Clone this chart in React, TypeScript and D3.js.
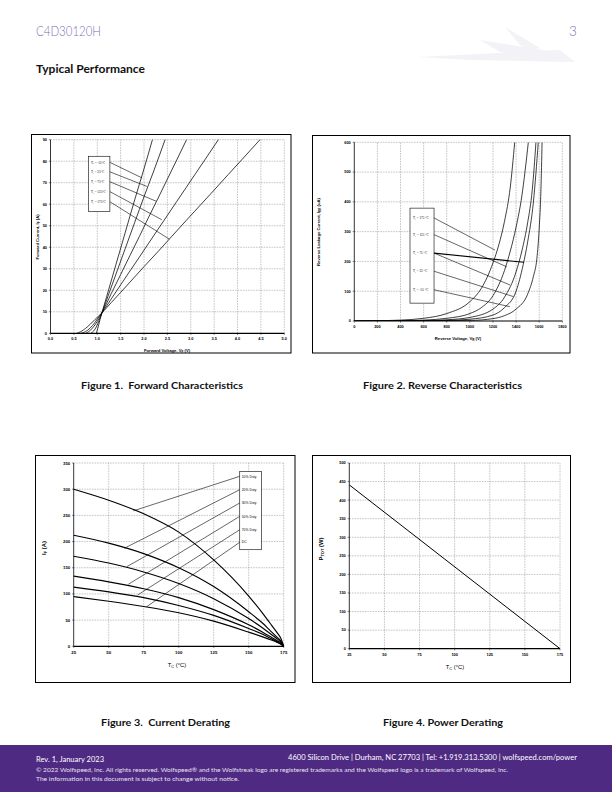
import React from "react";
import * as d3 from "d3";

type Pt = [number, number];

// ---------- Figure 1: Forward characteristics ----------
const FWD_X_TICKS = [0, 0.5, 1, 1.5, 2, 2.5, 3, 3.5, 4, 4.5, 5];
const FWD_Y_TICKS = [0, 10, 20, 30, 40, 50, 60, 70, 80, 90];
const FWD_TEMPS = ["-55", "25", "75", "125", "175"];
const FWD_N55: Pt[] = [[0.98, 0], [1.02, 3], [1.06, 6.5], [1.1, 9.5], [1.2, 17], [1.4, 32], [1.6, 47], [1.8, 62], [2.0, 76.5], [2.18, 90]];
const FWD_25: Pt[] = [[0.86, 0], [0.92, 1], [0.98, 3], [1.04, 6], [1.1, 9.5], [1.2, 15.5], [1.4, 27.5], [1.6, 39.5], [1.8, 51.5], [2.0, 63.5], [2.2, 75], [2.45, 90]];
const FWD_75: Pt[] = [[0.75, 0], [0.82, 0.8], [0.9, 2.5], [1.0, 5.5], [1.1, 9.5], [1.3, 18.5], [1.5, 27.3], [1.7, 36.2], [1.9, 45], [2.1, 54], [2.3, 62.8], [2.5, 71.7], [2.7, 80.6], [2.91, 90]];
const FWD_125: Pt[] = [[0.65, 0], [0.75, 0.8], [0.85, 2.5], [0.95, 5], [1.0, 6.6], [1.1, 9.5], [1.3, 16], [1.5, 22.5], [1.7, 29], [1.9, 35.4], [2.1, 41.9], [2.3, 48.4], [2.5, 54.8], [2.7, 61.3], [2.9, 67.7], [3.1, 74.2], [3.3, 80.6], [3.59, 90]];
const FWD_175: Pt[] = [[0.56, 0], [0.65, 0.8], [0.75, 2.3], [0.85, 4.2], [0.95, 6.4], [1.1, 9.5], [1.3, 14.3], [1.5, 19], [1.7, 23.8], [2.0, 31], [2.3, 38], [2.6, 45.2], [2.9, 52.4], [3.2, 59.5], [3.5, 66.6], [3.8, 73.8], [4.1, 80.9], [4.48, 90]];
const FWD_SERIES = [FWD_N55, FWD_25, FWD_75, FWD_125, FWD_175];
const FWD_LABEL_Y = [79, 74.6, 70, 65.4, 60.7];
const FWD_LEADER_END: Pt[] = [[1.96, 72.2], [2.06, 68.3], [2.26, 61.4], [2.38, 52.8], [2.54, 43.8]];
const FWD_BOX = { v0: 0.81, v1: 1.27, i0: 56.7, i1: 82.3 };

// ---------- Figure 2: Reverse characteristics ----------
const REV_X_TICKS = [0, 200, 400, 600, 800, 1000, 1200, 1400, 1600, 1800];
const REV_Y_TICKS = [0, 100, 200, 300, 400, 500, 600];
const REV_TEMPS = ["175", "125", "75", "25", "-55"];
const REV_175: Pt[] = [[0, 0], [200, 1], [400, 3], [600, 9], [800, 25], [1000, 65], [1100, 110], [1200, 195], [1250, 255], [1300, 335], [1350, 450], [1388, 600]];
const REV_125: Pt[] = [[0, 0], [400, 1], [600, 3], [800, 9], [1000, 25], [1100, 45], [1200, 85], [1300, 170], [1350, 235], [1400, 315], [1450, 420], [1506, 600]];
const REV_75: Pt[] = [[0, 0], [600, 1], [800, 4], [1000, 12], [1200, 40], [1300, 80], [1400, 165], [1450, 235], [1500, 330], [1540, 440], [1572, 600]];
const REV_25: Pt[] = [[0, 0], [800, 2], [1000, 6], [1200, 20], [1300, 45], [1400, 100], [1462, 190], [1500, 265], [1550, 400], [1592, 600]];
const REV_N55: Pt[] = [[0, 0], [1000, 2], [1200, 8], [1300, 18], [1400, 40], [1500, 90], [1550, 150], [1580, 210], [1600, 310], [1615, 440], [1625, 600]];
const REV_SERIES = [REV_175, REV_125, REV_75, REV_25, REV_N55];
const REV_LABEL_Y = [346, 290, 228, 167, 105];
const REV_LEADER_FROM = [0, 1, 2, 2, 3, 4];
const REV_LEADER_END: Pt[] = [[1218, 238], [1319, 182], [1468, 197], [1347, 121], [1376, 82], [1347, 48]];
const REV_BOX = { v0: 482, v1: 690, i0: 60, i1: 379 };

// ---------- Figure 3: Current derating ----------
const DER_X_TICKS = [25, 50, 75, 100, 125, 150, 175];
const DER_Y_TICKS = [0, 50, 100, 150, 200, 250, 300, 350];
const DER_TC = [25, 50, 75, 100, 125, 150, 160, 165, 170, 173, 175];
const DER_10 = [300, 279, 253, 218, 165, 96, 63, 45, 27, 15, 0];
const DER_20 = [212, 197, 177, 150, 114, 66, 44, 31, 18, 10, 0];
const DER_30 = [172, 159, 142, 120, 91, 53, 35, 25, 15, 8, 0];
const DER_50 = [134, 123, 110, 93, 70, 41, 27, 19, 11, 6, 0];
const DER_70 = [113, 104, 93, 78, 59, 34, 23, 16, 9, 4.5, 0];
const DER_DC = [95, 86, 76, 64, 48, 27, 18, 13, 8, 4, 0];
const DER_SERIES = [DER_10, DER_20, DER_30, DER_50, DER_70, DER_DC];
const DER_LABELS = ["10% Duty", "20% Duty", "30% Duty", "50% Duty", "70% Duty", "DC"];
const DER_LABEL_Y = [324.6, 299, 273.6, 248.1, 222.6, 198.6];
const DER_LEADER_END: Pt[] = [[67.6, 258.6], [61.1, 187.1], [62.9, 152], [64, 118.4], [70.7, 98], [77.1, 75.6]];
const DER_BOX = { t0: 143.6, t1: 159, i0: 184.4, i1: 334 };

// ---------- Figure 4: Power derating ----------
const PWR_X_TICKS = [25, 50, 75, 100, 125, 150, 175];
const PWR_Y_TICKS = [0, 50, 100, 150, 200, 250, 300, 350, 400, 450, 500];
const PWR_TC = [25, 175];
const PWR_P = [441, 0];

const NARROW = "'Liberation Sans Narrow', 'Liberation Sans', Arial, sans-serif";
const SERIF = "'Liberation Serif', 'DejaVu Serif', serif";
const UI = "Lato, 'Open Sans', 'Noto Sans', sans-serif";
const PURPLE = "#4f2a82";

type Rect = { x: number; y: number; w: number; h: number };
type PlotR = { x0: number; x1: number; y0: number; y1: number };

function Panel(props: {
  frame: Rect;
  plot: PlotR;
  xDomain: [number, number];
  yDomain: [number, number];
  xTicks: number[];
  yTicks: number[];
  xFmt: (v: number) => string;
  tickSize: number;
  render: (x: d3.ScaleLinear<number, number>, y: d3.ScaleLinear<number, number>) => React.ReactNode;
}) {
  const { frame, plot, xDomain, yDomain, xTicks, yTicks, xFmt, tickSize, render } = props;
  const x = d3.scaleLinear().domain(xDomain).range([plot.x0, plot.x1]);
  const y = d3.scaleLinear().domain(yDomain).range([plot.y1, plot.y0]);
  return (
    <g>
      <rect x={frame.x} y={frame.y} width={frame.w} height={frame.h} fill="#fff" stroke="#000" strokeWidth={1} />
      {xTicks.slice(1).map((t) => (
        <line key={"gx" + t} x1={x(t)} x2={x(t)} y1={y(yDomain[0])} y2={y(yDomain[1])} stroke="#8a8a8a" strokeWidth={0.5} strokeDasharray="1.6,1" />
      ))}
      {yTicks.slice(1).map((t) => (
        <line key={"gy" + t} x1={x(xDomain[0])} x2={x(xDomain[1])} y1={y(t)} y2={y(t)} stroke="#8a8a8a" strokeWidth={0.5} strokeDasharray="1.6,1" />
      ))}
      {render(x, y)}
      <line x1={x(xDomain[0])} x2={x(xDomain[0])} y1={y(yDomain[0])} y2={y(yDomain[1])} stroke="#000" strokeWidth={0.8} />
      <line x1={x(xDomain[0])} x2={x(xDomain[1])} y1={y(yDomain[0])} y2={y(yDomain[0])} stroke="#000" strokeWidth={1.2} />
      {xTicks.map((t) => (
        <g key={"tx" + t}>
          <line x1={x(t)} x2={x(t)} y1={y(yDomain[0])} y2={y(yDomain[0]) + 1.6} stroke="#000" strokeWidth={0.5} />
          <text x={x(t)} y={y(yDomain[0]) + 3 + tickSize} fontSize={tickSize} fontFamily={NARROW} fontWeight="bold" textAnchor="middle">{xFmt(t)}</text>
        </g>
      ))}
      {yTicks.map((t) => (
        <g key={"ty" + t}>
          <line x1={x(xDomain[0]) - 1.6} x2={x(xDomain[0])} y1={y(t)} y2={y(t)} stroke="#000" strokeWidth={0.5} />
          <text x={x(xDomain[0]) - 3.5} y={y(t) + tickSize * 0.35} fontSize={tickSize} fontFamily={NARROW} fontWeight="bold" textAnchor="end">{t}</text>
        </g>
      ))}
    </g>
  );
}

export default function App() {
  const smooth = d3.line<Pt>().curve(d3.curveMonotoneX);

  return (
    <svg width={612} height={792} viewBox="0 0 612 792" style={{ position: "absolute", left: 0, top: 0, background: "#fff" }}>
      <rect x={0} y={0} width={612} height={792} fill="#fff" />
      {/* watermark */}
      <g fill="#f3f2f7">
        <polygon points="418,57 560,50 575,62 470,60" />
        <polygon points="505,27 540,48 530,50 520,45" />
        <polygon points="480,40 555,52 560,62 500,52" />
      </g>
      {/* header */}
      <text x={36} y={36} fontSize={13.5} fontFamily={UI} fontWeight={300} fill="#7e6fb8" textLength={65} lengthAdjust="spacingAndGlyphs">C4D30120H</text>
      <text x={569} y={36} fontSize={13.5} fontFamily={UI} fontWeight={300} fill="#7e6fb8">3</text>
      <text x={36} y={73} fontSize={11} fontFamily={UI} fontWeight="bold" fill="#111" textLength={109} lengthAdjust="spacingAndGlyphs">Typical Performance</text>

      {/* Figure 1 */}
      <Panel
        frame={{ x: 31.5, y: 134.5, w: 259.5, h: 218.5 }}
        plot={{ x0: 50.5, x1: 284.3, y0: 139.7, y1: 333.3 }}
        xDomain={[0, 5]}
        yDomain={[0, 90]}
        xTicks={FWD_X_TICKS}
        yTicks={FWD_Y_TICKS}
        xFmt={(v) => v.toFixed(1)}
        tickSize={3.9}
        render={(x, y) => (
          <g>
            {FWD_SERIES.map((s, i) => (
              <path key={i} d={smooth(s.map(([v, c]) => [x(v), y(c)] as Pt)) || ""} fill="none" stroke="#000" strokeWidth={0.75} />
            ))}
            {FWD_LEADER_END.map(([v, c], i) => (
              <line key={"l" + i} x1={x(FWD_BOX.v1)} y1={y(FWD_LABEL_Y[i]) - 1} x2={x(v)} y2={y(c)} stroke="#000" strokeWidth={0.6} />
            ))}
            <rect x={x(FWD_BOX.v0)} y={y(FWD_BOX.i1)} width={x(FWD_BOX.v1) - x(FWD_BOX.v0)} height={y(FWD_BOX.i0) - y(FWD_BOX.i1)} fill="#fff" stroke="#000" strokeWidth={0.6} />
            {FWD_TEMPS.map((t, i) => (
              <text key={"t" + t} x={x(FWD_BOX.v0) + 2.5} y={y(FWD_LABEL_Y[i]) + 0.3} fontSize={3.3} fontFamily={SERIF}>
                T<tspan fontSize={2.4} dy={0.8}>J</tspan><tspan dy={-0.8}> = {t}°C</tspan>
              </text>
            ))}
          </g>
        )}
      />
      <text x={167} y={351.5} fontSize={4.2} fontFamily={NARROW} fontWeight="bold" textAnchor="middle">
        Forward Voltage, V<tspan fontSize={3} dy={1}>F</tspan><tspan dy={-1}> (V)</tspan>
      </text>
      <text transform="translate(38.5,237) rotate(-90)" fontSize={4.2} fontFamily={NARROW} fontWeight="bold" textAnchor="middle">
        Forward Current, I<tspan fontSize={3} dy={1}>F</tspan><tspan dy={-1}> (A)</tspan>
      </text>

      {/* Figure 2 */}
      <Panel
        frame={{ x: 312.5, y: 135.5, w: 257.5, h: 217.5 }}
        plot={{ x0: 354.3, x1: 562.3, y0: 142.3, y1: 321 }}
        xDomain={[0, 1800]}
        yDomain={[0, 600]}
        xTicks={REV_X_TICKS}
        yTicks={REV_Y_TICKS}
        xFmt={(v) => String(v)}
        tickSize={3.9}
        render={(x, y) => (
          <g>
            <clipPath id="clip2">
              <rect x={x(0)} y={y(600)} width={x(1800) - x(0)} height={y(0) - y(600)} />
            </clipPath>
            <g clipPath="url(#clip2)">
              {REV_SERIES.map((s, i) => (
                <path key={i} d={smooth(s.map(([v, c]) => [x(v), y(c)] as Pt)) || ""} fill="none" stroke="#000" strokeWidth={0.75} />
              ))}
            </g>
            {REV_LEADER_END.map(([v, c], i) => (
              <line key={"l" + i} x1={x(REV_BOX.v1)} y1={y(REV_LABEL_Y[REV_LEADER_FROM[i]])} x2={x(v)} y2={y(c)} stroke="#000" strokeWidth={i === 2 ? 1.1 : 0.6} />
            ))}
            <rect x={x(REV_BOX.v0)} y={y(REV_BOX.i1)} width={x(REV_BOX.v1) - x(REV_BOX.v0)} height={y(REV_BOX.i0) - y(REV_BOX.i1)} fill="#fff" stroke="#000" strokeWidth={0.6} />
            {REV_TEMPS.map((t, i) => (
              <text key={"t" + t} x={x(REV_BOX.v0) + 3} y={y(REV_LABEL_Y[i]) + 1.1} fontSize={3.3} fontFamily={SERIF}>
                T<tspan fontSize={2.4} dy={0.8}>J</tspan><tspan dy={-0.8}> = {t} °C</tspan>
              </text>
            ))}
          </g>
        )}
      />
      <text x={458} y={339.5} fontSize={4.2} fontFamily={NARROW} fontWeight="bold" textAnchor="middle">
        Reverse Voltage, V<tspan fontSize={3} dy={1}>R</tspan><tspan dy={-1}> (V)</tspan>
      </text>
      <text transform="translate(319.5,232) rotate(-90)" fontSize={4.2} fontFamily={NARROW} fontWeight="bold" textAnchor="middle">
        Reverse Leakage Current, I<tspan fontSize={3} dy={1}>RR</tspan><tspan dy={-1}> (uA)</tspan>
      </text>

      {/* Figure 3 */}
      <Panel
        frame={{ x: 35.5, y: 455.5, w: 259.5, h: 227 }}
        plot={{ x0: 73.7, x1: 283.7, y0: 463, y1: 646.3 }}
        xDomain={[25, 175]}
        yDomain={[0, 350]}
        xTicks={DER_X_TICKS}
        yTicks={DER_Y_TICKS}
        xFmt={(v) => String(v)}
        tickSize={4.3}
        render={(x, y) => (
          <g>
            {DER_SERIES.map((s, i) => (
              <path key={i} d={d3.line<number>().x((_, k) => x(DER_TC[k])).y((d) => y(d)).curve(d3.curveMonotoneX)(s) || ""} fill="none" stroke="#000" strokeWidth={1.15} />
            ))}
            {DER_LEADER_END.map(([t, c], i) => (
              <line key={"l" + i} x1={x(DER_BOX.t0)} y1={y(DER_LABEL_Y[i])} x2={x(t)} y2={y(c)} stroke="#000" strokeWidth={0.6} />
            ))}
            <rect x={x(DER_BOX.t0)} y={y(DER_BOX.i1)} width={x(DER_BOX.t1) - x(DER_BOX.t0)} height={y(DER_BOX.i0) - y(DER_BOX.i1)} fill="#fff" stroke="#000" strokeWidth={0.6} />
            {DER_LABELS.map((t, i) => (
              <text key={"t" + t} x={x(DER_BOX.t0) + 2} y={y(DER_LABEL_Y[i]) + 1.2} fontSize={3.4} fontFamily={NARROW}>{t}</text>
            ))}
          </g>
        )}
      />
      <text x={177} y={667} fontSize={5.8} fontFamily={NARROW} textAnchor="middle">
        T<tspan fontSize={4} dy={1.2}>C</tspan><tspan dy={-1.2}> (°C)</tspan>
      </text>
      <text transform="translate(45.5,548) rotate(-90)" fontSize={5.8} fontFamily={NARROW} fontWeight="bold" textAnchor="middle">
        I<tspan fontSize={4} dy={1.2}>F</tspan><tspan dy={-1.2}> (A)</tspan>
      </text>

      {/* Figure 4 */}
      <Panel
        frame={{ x: 312.5, y: 455.5, w: 258, h: 227 }}
        plot={{ x0: 349.3, x1: 560, y0: 463, y1: 648.7 }}
        xDomain={[25, 175]}
        yDomain={[0, 500]}
        xTicks={PWR_X_TICKS}
        yTicks={PWR_Y_TICKS}
        xFmt={(v) => String(v)}
        tickSize={3.9}
        render={(x, y) => (
          <path d={d3.line<number>().x((_, k) => x(PWR_TC[k])).y((d) => y(d))(PWR_P) || ""} fill="none" stroke="#000" strokeWidth={1} />
        )}
      />
      <text x={455} y={669} fontSize={5.8} fontFamily={NARROW} textAnchor="middle">
        T<tspan fontSize={4} dy={1.2}>C</tspan><tspan dy={-1.2}> (°C)</tspan>
      </text>
      <text transform="translate(322.5,549) rotate(-90)" fontSize={5.8} fontFamily={NARROW} fontWeight="bold" textAnchor="middle">
        P<tspan fontSize={4} dy={1.2}>TOT</tspan><tspan dy={-1.2}> (W)</tspan>
      </text>

      {/* captions */}
      <text x={81} y={389} fontSize={10} fontFamily={UI} fontWeight="bold" fill="#111" textLength={162} lengthAdjust="spacingAndGlyphs" xmlSpace="preserve">Figure 1.  Forward Characteristics</text>
      <text x={363} y={389} fontSize={10} fontFamily={UI} fontWeight="bold" fill="#111" textLength={159} lengthAdjust="spacingAndGlyphs">Figure 2. Reverse Characteristics</text>
      <text x={101} y={726} fontSize={10} fontFamily={UI} fontWeight="bold" fill="#111" textLength={129} lengthAdjust="spacingAndGlyphs" xmlSpace="preserve">Figure 3.  Current Derating</text>
      <text x={383} y={726} fontSize={10} fontFamily={UI} fontWeight="bold" fill="#111" textLength={120} lengthAdjust="spacingAndGlyphs">Figure 4. Power Derating</text>

      {/* footer */}
      <rect x={0} y={745} width={612} height={47} fill={PURPLE} />
      <text x={36} y={762} fontSize={7.2} fontFamily={UI} fill="#fff" textLength={68} lengthAdjust="spacingAndGlyphs">Rev. 1, January 2023</text>
      <text x={577} y={760} fontSize={7.2} fontFamily={UI} fill="#fff" textAnchor="end" textLength={289} lengthAdjust="spacingAndGlyphs">4600 Silicon Drive  |  Durham, NC 27703  |  Tel: +1.919.313.5300  |  wolfspeed.com/power</text>
      <text x={36} y={772} fontSize={5.6} fontFamily={UI} fill="#e6e0f0" textLength={472} lengthAdjust="spacingAndGlyphs">© 2022 Wolfspeed, Inc. All rights reserved. Wolfspeed® and the Wolfstreak logo are registered trademarks and the Wolfspeed logo is a trademark of Wolfspeed, Inc.</text>
      <text x={36} y={780.5} fontSize={5.6} fontFamily={UI} fill="#e6e0f0" textLength={203} lengthAdjust="spacingAndGlyphs">The information in this document is subject to change without notice.</text>
    </svg>
  );
}
